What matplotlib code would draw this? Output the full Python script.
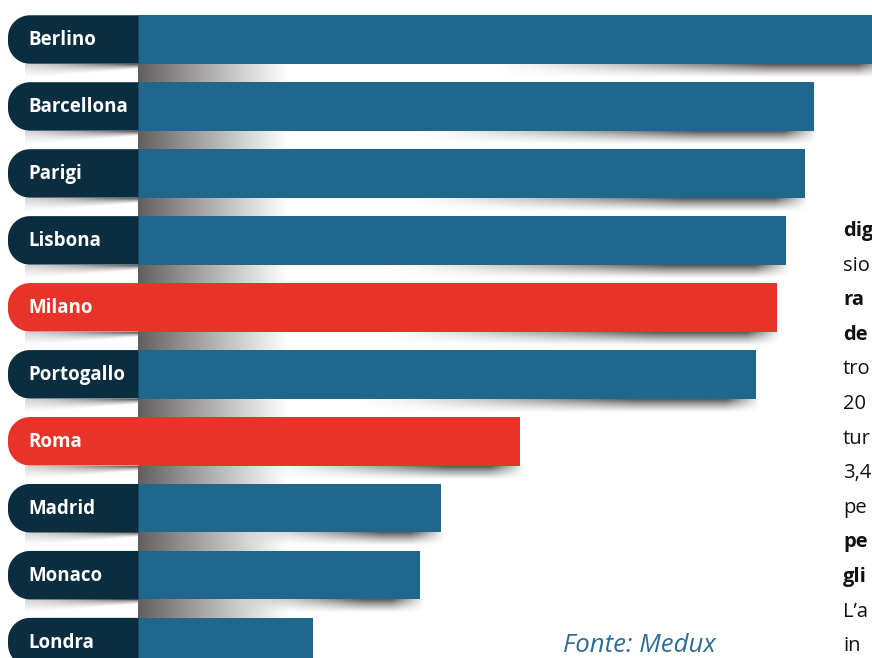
import numpy as np
import matplotlib
matplotlib.use("Agg")
import matplotlib.pyplot as plt
from matplotlib.patches import Polygon

# ---------------- data ----------------
cities = ["Berlino", "Barcellona", "Parigi", "Lisbona", "Milano",
          "Portogallo", "Roma", "Madrid", "Monaco", "Londra"]
values = [75.0, 67.6, 66.7, 64.8, 63.9, 61.8, 38.2, 30.3, 28.2, 17.5]
highlight = ["Milano", "Roma"]

side_text = ["dig", "sio", "ra", "de", "tro", "20", "tur",
             "3,4", "pe", "pe", "gli", "L\u2019a", "in"]
side_bold = [True, False, True, True, False, False, False, False, False, True, True, False, False]
source = "Fonte: Medux"

# ---------------- style ----------------
BLUE = "#1f678c"
RED = "#e8332a"
NAVY = "#0a2d40"
W, H = 872, 658
PX_PER_UNIT = 10.0       # horizontal pixels per value unit
X0 = 138                 # pixel where bars start
ROW = 66.96              # pixel spacing of rows
TOP = 39.5               # pixel centre of first row
BAR_PX = 48.5            # bar thickness in pixels

fig = plt.figure(figsize=(W / 100, H / 100), dpi=100)
ax = fig.add_axes([0, 0, 1, 1])
ax.set_xlim(-X0 / PX_PER_UNIT, (W - X0) / PX_PER_UNIT)
ax.set_ylim((H - TOP) / ROW, -TOP / ROW)
ax.axis("off")

dx = lambda px: px / PX_PER_UNIT
dy = lambda px: px / ROW
bh = dy(BAR_PX)
n = len(cities)
ypos = np.arange(n)

shadow_rgb = np.array([45, 40, 40]) / 255.0


def shade(alpha, x0, x1, y0, y1):
    img = np.zeros(alpha.shape + (4,))
    img[..., :3] = shadow_rgb
    img[..., 3] = np.clip(alpha, 0, 1)
    ax.imshow(img, extent=(x0, x1, y1, y0), origin="upper", aspect="auto",
              interpolation="bilinear", zorder=1)


for i, (c, v) in enumerate(zip(cities, values)):
    y = ypos[i]
    bot = y + bh / 2
    # gap gradient to the next bar (left part)
    if i < n - 1:
        t = np.linspace(0, 1, 200)
        a = 0.75 * (1 - t) ** 1.05
        alpha = np.tile(a, (20, 1))
        shade(alpha, 0, dx(152), bot, ypos[i + 1] - bh / 2)
    # shadow under the tab (curl)
    nx, ny = 120, 40
    xs = np.linspace(0, 1, nx)
    ys = np.linspace(0, 16, ny)[:, None]
    depth = 15 - 10 * xs
    hf = 0.2 + 0.6 * xs ** 1.3
    alpha = hf * np.clip(1 - ys / depth, 0, 1) ** 1.3
    shade(alpha, dx(25 - X0), 0, bot, bot + dy(16))
    # shadow under the right end of the bar
    end_px = v * PX_PER_UNIT
    L = min(0.65 * end_px, 400)
    nx = 300
    xp = np.linspace(end_px - L, end_px + 4, nx)
    t = (xp - (end_px - L)) / L
    rise = np.clip(t / 0.7, 0, 1) ** 1.3
    fall = np.clip((end_px + 4 - xp) / 34, 0, 1)
    ys = np.linspace(0, 1, 30)[:, None]
    alpha = 0.78 * rise * fall * (1 - ys) ** 1.3
    shade(alpha, dx(end_px - L), dx(end_px + 4), bot, bot + dy(14))

colors = [RED if c in highlight else BLUE for c in cities]
tab_colors = [RED if c in highlight else NAVY for c in cities]
ax.barh(ypos, values, height=bh, left=0, color=colors, zorder=3)

# label tabs (pixel offsets relative to the row centre, converted to data)
r = 22.0
for i, c in enumerate(cities):
    y = ypos[i]
    pts = [(X0 + 0.5, -BAR_PX / 2)]
    cx, cy = 8 + r, -BAR_PX / 2 + r
    for th in np.linspace(np.pi / 2, np.pi, 20):
        pts.append((cx + r * np.cos(th), cy - r * np.sin(th)))
    cx, cy = 8 + r, BAR_PX / 2 - r
    for th in np.linspace(np.pi, 1.5 * np.pi, 20):
        pts.append((cx + r * np.cos(th), cy - r * np.sin(th)))
    pts.append((X0 + 0.5, BAR_PX / 2))
    pts = [(dx(px - X0), y + dy(py)) for px, py in pts]
    ax.add_patch(Polygon(pts, closed=True, facecolor=tab_colors[i],
                         edgecolor="none", zorder=3))
    ax.text(dx(28 - X0), y + dy(0.5), c, color="white", fontsize=13.5, fontweight="bold",
            family="Open Sans", va="center", ha="left", zorder=5)

# side text (column continuing beyond the page edge)
for k, (s, b) in enumerate(zip(side_text, side_bold)):
    base = 236 + k * 34.6
    fig.text(843 / W, 1 - base / H, s, fontsize=14.5, family="Open Sans",
             fontweight="bold" if b else "normal", color="#111111",
             ha="left", va="baseline")

fig.text(563 / W, 1 - 657.5 / H, source, fontsize=18.5, family="Open Sans",
         style="italic", color="#2e6e94", ha="left", va="bottom")

fig.savefig("out.png", dpi=100)
